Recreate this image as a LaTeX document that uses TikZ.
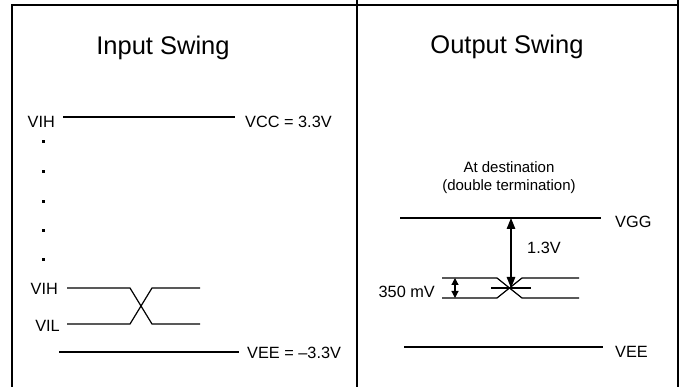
\documentclass[tikz,border=0pt]{standalone}
\usepackage{fontspec}
\setmainfont{Liberation Sans}
\usetikzlibrary{arrows.meta}

\begin{document}
\begin{tikzpicture}[x=1pt, y=-1pt,
  frame/.style={line width=2pt},
  level/.style={line width=1.2pt},
  title/.style={font=\fontsize{25.5}{28}\selectfont, inner sep=0pt},
  lbl/.style={font=\fontsize{16.3}{18}\selectfont, inner sep=0pt},
  note/.style={font=\fontsize{15}{17}\selectfont, inner sep=0pt},
  dim/.style={line width=1.2pt, {Triangle[length=11pt,width=8.5pt]}-{Triangle[length=11pt,width=8.5pt]}},
  smalldim/.style={line width=1.2pt, {Triangle[length=7pt,width=7pt]}-{Triangle[length=7pt,width=7pt]}},
  dotmark/.style={fill=black, minimum size=3pt, inner sep=0pt}]
\useasboundingbox (0,0) rectangle (683,387);
% table frame
\draw[frame] (12,387) -- (12,5.5) -- (678,5.5);
\draw[frame] (357,0) -- (357,387);
\draw[frame] (678,0) -- (678,387);

% left panel: input swing
\node[title, anchor=base] (intitle) at (163,55) {Input Swing};
\node[lbl, anchor=east] (vihtop) at (55,122) {VIH};
\node[lbl, anchor=west] (vcc) at (245,122) {VCC = 3.3V};
\draw[level] (63,117) -- (235,117);
\foreach \y [count=\i] in {142,172,202,231,260}
  \node[dotmark] (dot\i) at (43,\y) {};
\node[lbl, anchor=east] (vihlow) at (58,289) {VIH};
\node[lbl, anchor=east] (vil) at (60,326) {VIL};
\draw[level] (67,288) -- (130,288) -- (152,324) -- (200,324);
\draw[level] (67,324) -- (130,324) -- (152,288) -- (200,288);
\draw[level] (59,352) -- (239,352);
\node[lbl, anchor=west] (veein) at (247,353) {VEE = --3.3V};

% right panel: output swing
\node[title, anchor=base] (outtitle) at (507,54) {Output Swing};
\node[note, anchor=base] (dest) at (509,173) {At destination};
\node[note, anchor=base] (term) at (509,191) {(double termination)};
\draw[level] (400,218) -- (601,218);
\node[lbl, anchor=west] (vgg) at (615,222) {VGG};
\draw[level] (442,278) -- (497,278) -- (522,298) -- (579,298);
\draw[level] (442,298) -- (497,298) -- (522,278) -- (579,278);
\draw[level] (491,288) -- (531,288);
\coordinate (gtop) at (511,218);
\coordinate (cross) at (511,288);
\draw[dim] (gtop) -- (cross);
\node[lbl, anchor=west] (swing) at (527,248) {1.3V};
\coordinate (shi) at (455,278);
\coordinate (slo) at (455,298);
\draw[smalldim] (shi) -- (slo);
\node[lbl, anchor=east] (mv) at (435,292) {350 mV};
\draw[level] (404,347) -- (603,347);
\node[lbl, anchor=west] (veeout) at (615,352) {VEE};
\end{tikzpicture}
\end{document}
